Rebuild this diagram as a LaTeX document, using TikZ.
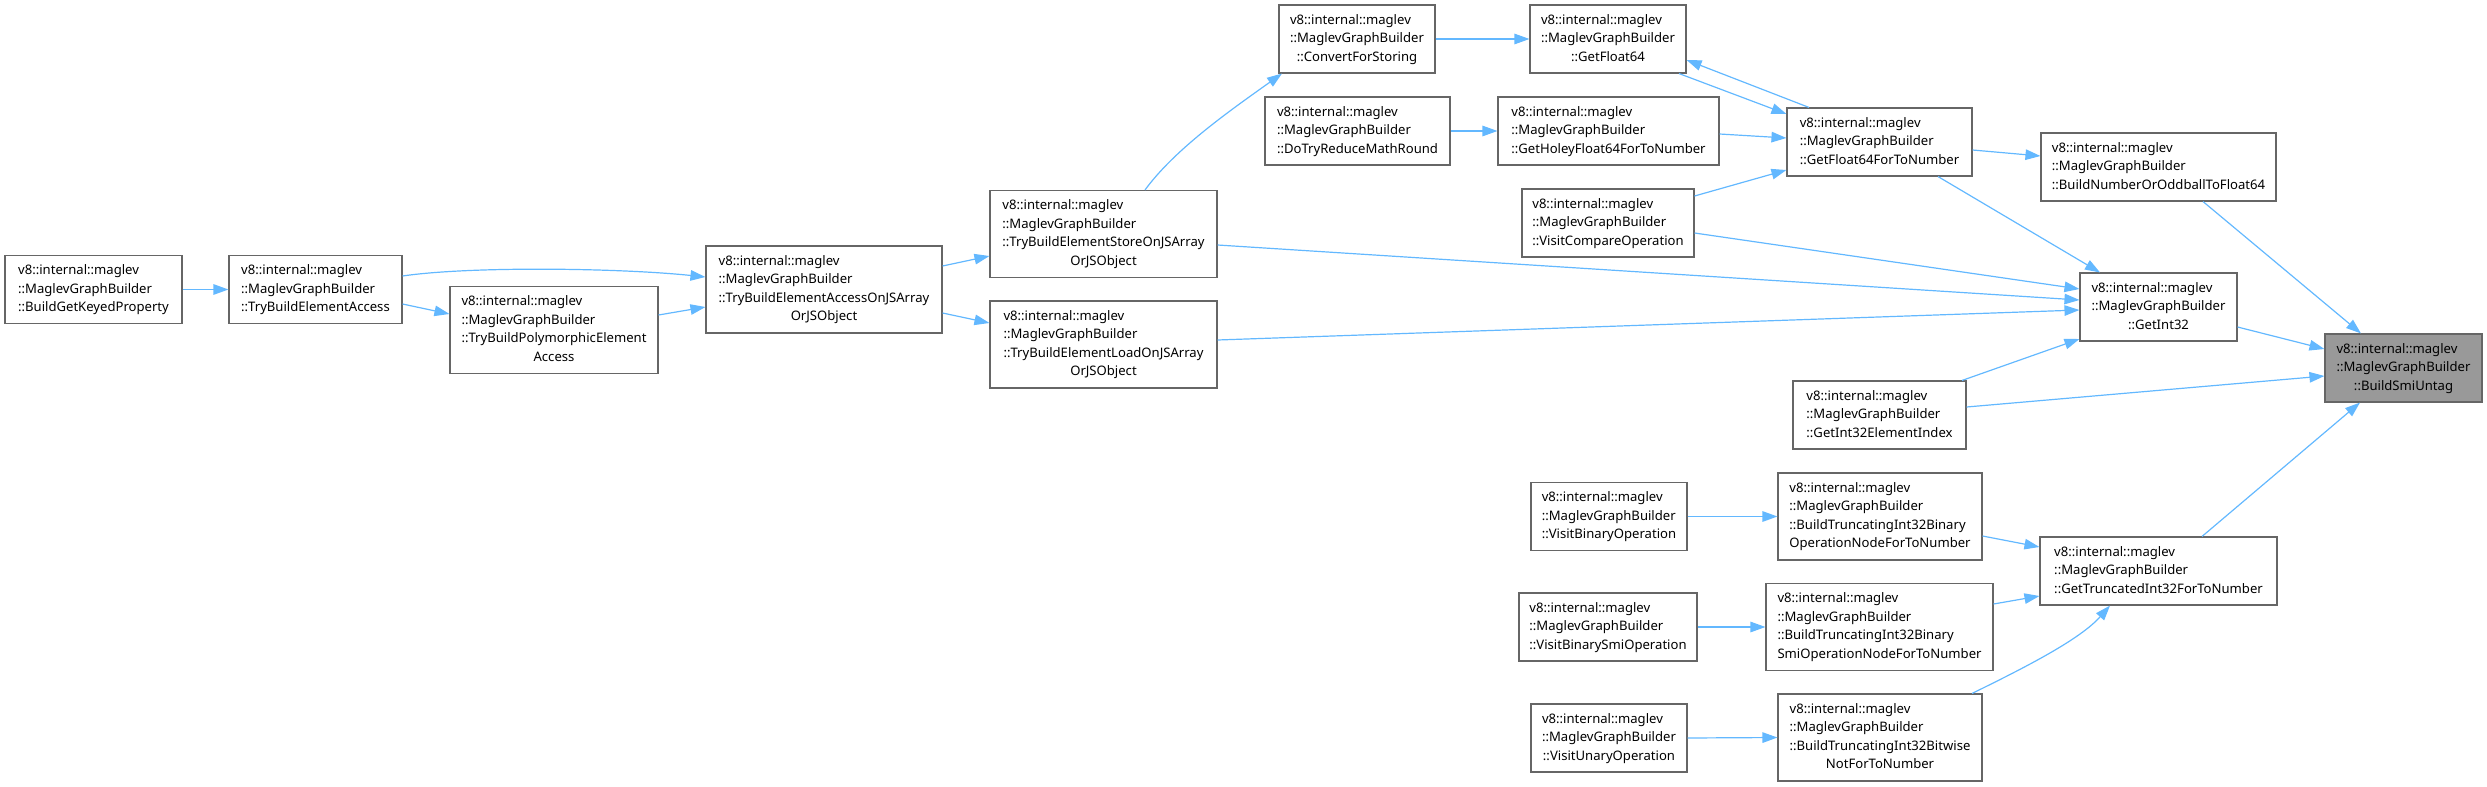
\documentclass[tikz,border=0pt]{standalone}
\usepackage{fontspec}
\setmainfont{Noto Sans}
\usetikzlibrary{arrows.meta}
\definecolor{edgeblue}{HTML}{63B8FF}
\definecolor{boxgray}{HTML}{666666}
\definecolor{hlfill}{HTML}{999999}
\newcommand\boxtext[2]{\begin{tabular}{@{}l@{}}#1\\\multicolumn{1}{@{}c@{}}{#2}\end{tabular}}
\newcommand\vmg{v8::internal::maglev\\::MaglevGraphBuilder}
\begin{document}
\begin{tikzpicture}[x=1pt,y=1pt,
  fn/.style={draw=boxgray, line width=1.1pt, fill=white, inner sep=0pt, minimum height=68pt, font=\fontsize{13.1}{18.5}\selectfont},
  fnfour/.style={fn, minimum height=87pt},
  hl/.style={fill=hlfill},
  call/.style={draw=edgeblue, line width=1.2pt, -{Triangle[length=15pt,width=10.5pt]}}]
\useasboundingbox (0,0) rectangle (2487,-787);
% nodes
\node[fn, minimum width=177pt] (n1) at (93.5,-289.5) {\boxtext{\vmg}{::BuildGetKeyedProperty}};
\node[fn, minimum width=173pt] (n2) at (315.5,-289.5) {\boxtext{\vmg}{::TryBuildElementAccess}};
\node[fnfour, minimum width=208pt] (n3) at (554,-330) {\boxtext{\vmg\\::TryBuildPolymorphicElement}{Access}};
\node[fnfour, minimum width=236pt] (n4) at (824,-289.5) {\boxtext{\vmg\\::TryBuildElementAccessOnJSArray}{OrJSObject}};
\node[fnfour, minimum width=227pt] (n5) at (1103.5,-234) {\boxtext{\vmg\\::TryBuildElementStoreOnJSArray}{OrJSObject}};
\node[fnfour, minimum width=227pt] (n6) at (1103.5,-344.5) {\boxtext{\vmg\\::TryBuildElementLoadOnJSArray}{OrJSObject}};
\node[fn, minimum width=156pt] (n7) at (1357,-39) {\boxtext{\vmg}{::ConvertForStoring}};
\node[fn, minimum width=156pt] (n8) at (1608,-39) {\boxtext{\vmg}{::GetFloat64}};
\node[fn, minimum width=185pt] (n9) at (1357.5,-131) {\boxtext{\vmg}{::DoTryReduceMathRound}};
\node[fn, minimum width=221pt] (n10) at (1608.5,-131) {\boxtext{\vmg}{::GetHoleyFloat64ForToNumber}};
\node[fn, minimum width=172pt] (n11) at (1608,-223) {\boxtext{\vmg}{::VisitCompareOperation}};
\node[fn, minimum width=185pt] (n12) at (1879.5,-142) {\boxtext{\vmg}{::GetFloat64ForToNumber}};
\node[fn, minimum width=235pt] (n13) at (2158.5,-167) {\boxtext{\vmg}{::BuildNumberOrOddballToFloat64}};
\node[fn, minimum width=157pt] (n14) at (2158.5,-307) {\boxtext{\vmg}{::GetInt32}};
\node[fn, minimum width=173pt] (n15) at (1879.5,-415) {\boxtext{\vmg}{::GetInt32ElementIndex}};
\node[fn, hl, minimum width=157pt] (n16) at (2403.5,-368) {\boxtext{\vmg}{::BuildSmiUntag}};
\node[fn, minimum width=156pt] (n17) at (1609,-516.5) {\boxtext{\vmg}{::VisitBinaryOperation}};
\node[fnfour, minimum width=204pt] (n18) at (1880,-516.5) {\boxtext{\vmg\\::BuildTruncatingInt32Binary}{OperationNodeForToNumber}};
\node[fn, minimum width=237pt] (n19) at (2158.5,-571) {\boxtext{\vmg}{::GetTruncatedInt32ForToNumber}};
\node[fn, minimum width=178pt] (n20) at (1608,-627) {\boxtext{\vmg}{::VisitBinarySmiOperation}};
\node[fnfour, minimum width=227pt] (n21) at (1879.5,-627) {\boxtext{\vmg\\::BuildTruncatingInt32Binary}{SmiOperationNodeForToNumber}};
\node[fn, minimum width=156pt] (n22) at (1609,-738) {\boxtext{\vmg}{::VisitUnaryOperation}};
\node[fnfour, minimum width=204pt] (n23) at (1880,-737.5) {\boxtext{\vmg\\::BuildTruncatingInt32Bitwise}{NotForToNumber}};
% edges
\draw[call] (n1.east) -- (n2.west);
\draw[call] ([yshift=13.5pt]n2.east) .. controls +(68,10) and +(-86,9) .. ([yshift=12.5pt]n4.west);
\draw[call] ([yshift=-14.5pt]n2.east) -- ([yshift=16pt]n3.west);
\draw[call] ([yshift=15pt]n3.east) -- ([yshift=-17.5pt]n4.west);
\draw[call] ([yshift=23.5pt]n4.east) -- ([yshift=-22pt]n5.west);
\draw[call] ([yshift=-23.5pt]n4.east) -- ([yshift=21.5pt]n6.west);
\draw[call] ([xshift=41.5pt]n5.north) .. controls +(30,41) and +(-52,-37) .. ([xshift=-75pt]n7.south);
\draw[call] (n7.east) -- (n8.west);
\draw[call] (n9.east) -- (n10.west);
\draw[call] ([yshift=-3pt]n10.east) -- ([yshift=4pt]n12.west);
\draw[call] ([yshift=27pt]n11.east) -- ([yshift=-28pt]n12.west);
\draw[call] ([xshift=-70.5pt]n12.north) -- ([yshift=-21pt]n8.east);
\draw[call] ([xshift=71pt]n8.south) -- ([yshift=28pt]n12.west);
\draw[call] ([yshift=-8pt]n12.east) -- ([yshift=11pt]n13.west);
\draw[call] ([xshift=58.5pt]n12.south) -- ([xshift=-58.5pt]n14.north);
\draw[call] ([yshift=-10pt]n11.east) -- ([yshift=18pt]n14.west);
\draw[call] ([yshift=-11pt]n5.east) -- ([yshift=7pt]n14.west);
\draw[call] ([yshift=4.5pt]n6.east) -- ([yshift=-3pt]n14.west);
\draw[call] ([xshift=82.5pt]n15.north) -- ([yshift=-32pt]n14.west);
\draw[call] ([yshift=8pt]n15.east) -- ([yshift=-8pt]n16.west);
\draw[call] ([yshift=-20pt]n14.east) -- ([yshift=19pt]n16.west);
\draw[call] ([xshift=44.5pt]n13.south) -- ([xshift=-42.5pt]n16.north);
\draw[call] ([xshift=43.5pt]n19.north) -- ([xshift=-43.5pt]n16.south);
\draw[call] (n17.east) -- (n18.west);
\draw[call] ([yshift=-19.5pt]n18.east) -- ([yshift=24pt]n19.west);
\draw[call] (n20.east) -- (n21.west);
\draw[call] ([yshift=23pt]n21.east) -- ([yshift=-25pt]n19.west);
\draw[call] (n22.east) -- (n23.west);
\draw[call] ([xshift=92pt]n23.north) .. controls +(53,26) and +(-30,-34) .. ([xshift=-48.5pt]n19.south);
\end{tikzpicture}
\end{document}
